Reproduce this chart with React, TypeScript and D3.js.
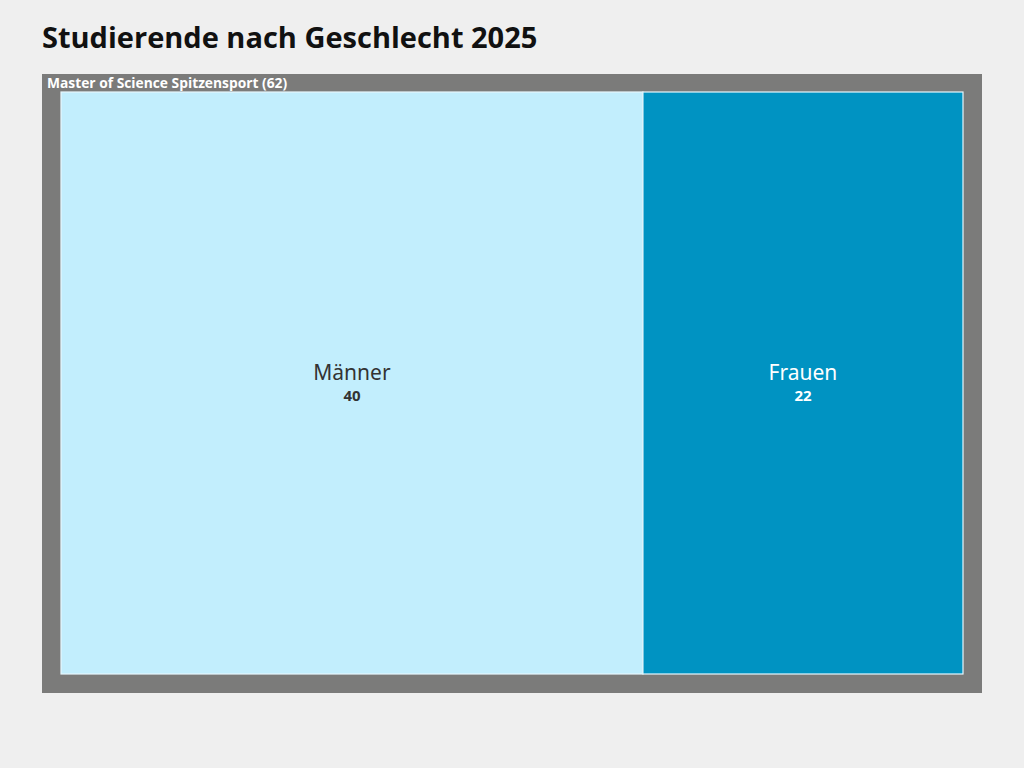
import { useMemo } from 'react';
import * as d3 from 'd3';

// Values
const groupName = 'Master of Science Spitzensport';
const categories = ['Männer', 'Frauen'];
const values = [40, 22];
const cellColors = ['#c2eefd', '#0093c2'];
const labelColors = ['#333333', '#ffffff'];

const W = 1024;
const H = 768;
const box = { x: 42, y: 74, w: 940, h: 619 };

interface Leaf { name: string; value: number; color: string; text: string }

export default function App() {
  const nodes = useMemo(() => {
    const data = {
      name: groupName,
      children: categories.map((c, i) => ({ name: c, value: values[i], color: cellColors[i], text: labelColors[i] })),
    };
    const root = d3
      .hierarchy<any>(data)
      .sum((d) => d.value ?? 0)
      .sort((a, b) => (b.value ?? 0) - (a.value ?? 0));
    d3.treemap<any>()
      .tile(d3.treemapDice)
      .size([box.w, box.h])
      .paddingTop(18)
      .paddingLeft(19)
      .paddingRight(19)
      .paddingBottom(19)(root);
    return root as d3.HierarchyRectangularNode<any>;
  }, []);

  const total = d3.sum(values);
  const leaves = nodes.leaves();

  return (
    <div style={{ position: 'absolute', left: 0, top: 0, width: W, height: H, background: '#efefef' }}>
      <svg width={W} height={H} style={{ display: 'block' }}>
        <text x={42} y={48} fontFamily="'Open Sans', sans-serif" fontWeight={700} fontSize={29} fill="#111">
          Studierende nach Geschlecht 2025
        </text>
        <g transform={`translate(${box.x},${box.y})`}>
          <rect x={nodes.x0} y={nodes.y0} width={nodes.x1 - nodes.x0} height={nodes.y1 - nodes.y0} fill="#7b7b7a" />
          <text x={nodes.x0 + 5} y={nodes.y0 + 14} fontFamily="'Open Sans', sans-serif" fontWeight={700} fontSize={13.8} fill="#fff">
            {`${groupName} (${total})`}
          </text>
          {leaves.map((leaf) => {
            const d = leaf.data as Leaf;
            const cx = (leaf.x0 + leaf.x1) / 2;
            const cy = (leaf.y0 + leaf.y1) / 2;
            return (
              <g key={d.name}>
                <rect
                  x={leaf.x0}
                  y={leaf.y0}
                  width={leaf.x1 - leaf.x0}
                  height={leaf.y1 - leaf.y0}
                  fill={d.color}
                  stroke="#e6f7fd"
                  strokeWidth={1.2}
                />
                <text x={cx} y={cy - 3} textAnchor="middle" fontFamily="'Noto Sans', sans-serif" fontSize={21} fill={d.text}>
                  {d.name}
                </text>
                <text x={cx} y={cy + 18} textAnchor="middle" fontFamily="'Open Sans', sans-serif" fontWeight={700} fontSize={15} fill={d.text}>
                  {d.value}
                </text>
              </g>
            );
          })}
        </g>
      </svg>
    </div>
  );
}
